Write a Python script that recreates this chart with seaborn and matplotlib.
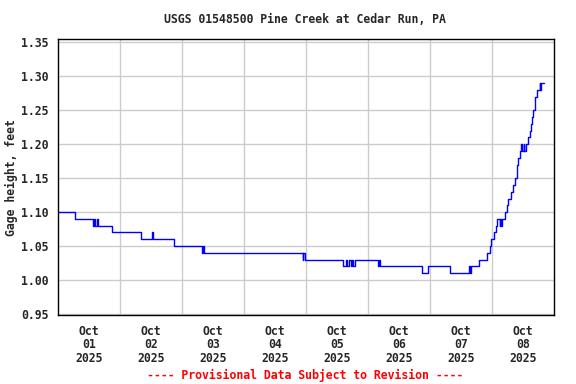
import pandas as pd
import numpy as np
import matplotlib.pyplot as plt
import seaborn as sns

# hours since Oct 01 2025 00:00, gage height (ft) at each step change
hours = [0, 6.75, 13.5, 14.0, 14.25, 15.0, 15.5, 21.0, 32.25, 36.5, 36.75, 45.0,
         55.75, 56.0, 56.5, 94.75, 95.0, 95.5, 110.5, 111.5, 112.0, 112.75, 113.25,
         113.75, 114.25, 115.0, 124.0, 124.25, 124.75, 141.0, 143.25, 151.75,
         159.0, 159.5, 159.75, 163.0, 166.25, 167.25, 167.75, 168.75, 169.5, 170.0,
         171.0, 171.25, 171.5, 172.0, 173.0, 173.75, 174.25, 175.25, 176.0, 177.0,
         177.75, 178.25, 178.75, 179.25, 179.75, 180.25, 180.5, 181.0, 182.0, 182.75,
         183.25, 183.5, 184.0, 184.5, 185.25, 186.5, 186.75, 187.0, 188.25]
gage = [1.10, 1.09, 1.08, 1.09, 1.08, 1.09, 1.08, 1.07, 1.06, 1.07, 1.06, 1.05,
        1.04, 1.05, 1.04, 1.03, 1.04, 1.03, 1.02, 1.03, 1.02, 1.03, 1.02,
        1.03, 1.02, 1.03, 1.02, 1.03, 1.02, 1.01, 1.02, 1.01,
        1.02, 1.01, 1.02, 1.03, 1.04, 1.05, 1.06, 1.07, 1.08, 1.09,
        1.08, 1.09, 1.08, 1.09, 1.10, 1.11, 1.12, 1.13, 1.14, 1.15,
        1.17, 1.18, 1.19, 1.20, 1.19, 1.20, 1.19, 1.20, 1.21, 1.22,
        1.23, 1.24, 1.25, 1.27, 1.28, 1.29, 1.28, 1.29, 1.29]
day_labels = ['Oct\n01\n2025', 'Oct\n02\n2025', 'Oct\n03\n2025', 'Oct\n04\n2025',
              'Oct\n05\n2025', 'Oct\n06\n2025', 'Oct\n07\n2025', 'Oct\n08\n2025']
y_ticks = [0.95, 1.00, 1.05, 1.10, 1.15, 1.20, 1.25, 1.30, 1.35]

df = pd.DataFrame({'day': np.array(hours) / 24.0, 'gage': gage})

sns.set_style('white')
plt.rcParams['font.family'] = ['DejaVu Sans Mono']
plt.rcParams['font.weight'] = 'bold'

fig = plt.figure(figsize=(5.76, 3.84), dpi=100)
ax = fig.add_axes([0.1007, 0.1797, 0.8611, 0.718])

sns.lineplot(data=df, x='day', y='gage', ax=ax, color='#0000ff', linewidth=1,
             drawstyle='steps-post', estimator=None)

ax.set_xlim(0, 8)
ax.set_ylim(0.9485, 1.3545)
ax.set_xticks(np.arange(8) + 0.5)
ax.set_xticklabels(day_labels, fontsize=8.3, fontweight='bold', linespacing=1.05)
ax.set_xticks(np.arange(1, 8), minor=True)
ax.set_yticks(y_ticks)
ax.set_yticklabels(['%.2f' % v for v in y_ticks], fontsize=8.3, fontweight='bold')
ax.grid(True, which='minor', axis='x', color='#cccccc', linewidth=1)
ax.grid(True, which='major', axis='y', color='#cccccc', linewidth=1)
ax.tick_params(axis='x', which='both', length=0, pad=7)
ax.tick_params(axis='y', which='both', length=0, pad=7)
for s in ax.spines.values():
    s.set_color('black')
    s.set_linewidth(1)

ax.set_xlabel('')
ax.set_ylabel('Gage height, feet', fontsize=8.3, fontweight='bold')
ax.yaxis.set_label_coords(-0.08, 0.5)
fig.text(0.529, 0.95, 'USGS 01548500 Pine Creek at Cedar Run, PA',
         ha='center', va='center', fontsize=8.3, fontweight='bold')
fig.text(0.53, 0.022, '---- Provisional Data Subject to Revision ----',
         ha='center', va='center', fontsize=8.3, fontweight='bold', color='red')

plt.savefig('out.png', dpi=100)
plt.close()
